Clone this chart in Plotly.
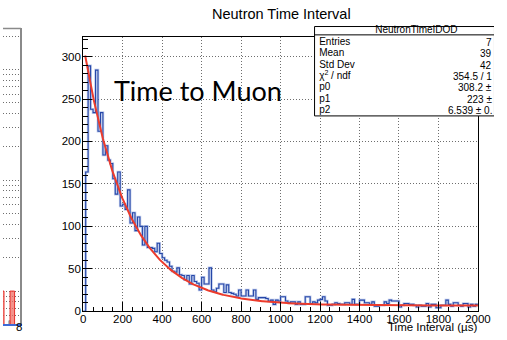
import numpy as np
import plotly.graph_objects as go

# ---------------- data ----------------
bin_width = 12.5          # µs
x_min, x_max = 0, 2000
counts = [
    0, 164, 289, 238, 234, 284, 212, 234, 184, 195,
    178, 174, 156, 138, 164, 124, 126, 120, 143, 104,
    116, 95, 111, 100, 78, 100, 75, 75, 74, 70,
    80, 68, 63, 60, 58, 53, 47, 46, 51, 43,
    42, 37, 42, 32, 42, 35, 33, 25, 40, 32,
    32, 51, 25, 23, 27, 32, 32, 22, 31, 22,
    21, 20, 18, 25, 18, 18, 25, 18, 18, 25,
    14, 16, 16, 16, 15, 12, 13, 8, 13, 12,
    17, 17, 12, 10, 11, 11, 8, 11, 8, 8,
    17, 17, 9, 11, 10, 13, 14, 17, 12, 7,
    7, 8, 10, 9, 8, 8, 10, 10, 8, 14,
    8, 8, 13, 13, 10, 10, 8, 11, 6, 6,
    7, 7, 11, 9, 13, 12, 12, 12, 5, 7,
    9, 9, 8, 8, 7, 5, 7, 6, 6, 9,
    5, 8, 8, 4, 4, 7, 7, 13, 8, 6,
    10, 10, 7, 6, 9, 9, 5, 8, 6, 8,
]
fit_p0, fit_p1, fit_p2 = 308.2, 223.0, 6.539
fit_start = 10

x_ticks = [0, 200, 400, 600, 800, 1000, 1200, 1400, 1600, 1800, 2000]
y_ticks = [0, 50, 100, 150, 200, 250, 300]

stats_title = "NeutronTimeIDOD"
stats_labels = ["Entries", "Mean", "Std Dev", "χ<sup>2</sup> / ndf", "p0", "p1", "p2"]
# the part of each value that is visible before the page edge cuts it
stats_values = ["7", "39", "42", "354.5 / 1", "308.2 ±", "223 ±", "6.539 ± 0."]

# partially visible neighbouring panel (log scale)
left_x = [-0.6, 3.2, 4.6]
left_y = [0.1, 0.054, 0.1]
left_w = [2.2, 0.6, 2.24]
left_tick = [8]

# ---------------- helpers ----------------
W, H = 507, 340
def px(x):
    return x / W
def py(y):
    return 1 - y / H

FONT = "Liberation Sans, Arial, Helvetica, sans-serif"

edges = np.arange(len(counts) + 1) * bin_width
step_x = list(edges)
step_y = list(counts) + [counts[-1]]

fx = np.linspace(fit_start, x_max, 600)
fy = fit_p0 * np.exp(-fx / fit_p1) + fit_p2

fig = go.Figure()

# main histogram (halo + line)
fig.add_trace(go.Scatter(x=step_x, y=step_y, mode="lines", line_shape="hv",
                         line=dict(color="rgba(110,140,210,0.45)", width=2.6),
                         hoverinfo="skip", showlegend=False))
fig.add_trace(go.Scatter(x=step_x, y=step_y, mode="lines", line_shape="hv",
                         line=dict(color="#2647a8", width=1.1),
                         showlegend=False))
# fit curve
fig.add_trace(go.Scatter(x=fx, y=fy, mode="lines",
                         line=dict(color="#ec3b2c", width=2),
                         showlegend=False))

# left panel bars
fig.add_trace(go.Bar(x=left_x, y=left_y, width=left_w,
                     marker=dict(color=["rgba(240,110,100,0.75)", "rgba(150,150,150,0.8)", "rgba(240,110,100,0.75)"],
                                 line=dict(color=["#e8302a", "#999999", "#e8302a"], width=1)),
                     xaxis="x2", yaxis="y2", showlegend=False))

# ---- stats box on a full-page overlay subplot (pixel coordinates) ----
box_l, box_r, box_t, box_b, box_sep = 321.7, 507.5, 27, 118, 35.5
box_center = 426.85
fig.add_trace(go.Scatter(x=[box_l, box_r, box_r, box_l, box_l],
                         y=[box_t, box_t, box_b, box_b, box_t],
                         mode="lines", fill="toself", fillcolor="white",
                         line=dict(color="black", width=1),
                         xaxis="x3", yaxis="y3", hoverinfo="skip", showlegend=False))
fig.add_trace(go.Scatter(x=[box_l, box_r], y=[box_sep, box_sep], mode="lines",
                         line=dict(color="black", width=1),
                         xaxis="x3", yaxis="y3", hoverinfo="skip", showlegend=False))
row_y = [43, 54.6, 66.2, 77.8, 89.4, 100.9, 112.4]
fig.add_trace(go.Scatter(x=[box_center], y=[31.3], mode="text",
                         text=[stats_title], textposition="middle center",
                         textfont=dict(size=10, family=FONT, color="black"),
                         cliponaxis=True, xaxis="x3", yaxis="y3", showlegend=False))
fig.add_trace(go.Scatter(x=[326.5] * len(stats_labels), y=row_y, mode="text",
                         text=stats_labels, textposition="middle right",
                         textfont=dict(size=10, family=FONT, color="black"),
                         cliponaxis=True, xaxis="x3", yaxis="y3", showlegend=False))

grid = dict(showgrid=True, gridcolor="#6e6e6e", griddash="1px,2px", gridwidth=1)

fig.update_layout(
    width=W, height=H, autosize=False,
    margin=dict(l=0, r=0, t=0, b=0),
    paper_bgcolor="white", plot_bgcolor="rgba(0,0,0,0)",
    font=dict(family=FONT, color="black", size=11.5),
    showlegend=False,
    bargap=0,
    dragmode=False,
    xaxis=dict(domain=[px(82.8), px(490.4)], range=[x_min, x_max], fixedrange=True,
               tickvals=x_ticks, ticks="inside", ticklen=9, tickcolor="black",
               minor=dict(dtick=50, ticks="inside", ticklen=4.5, tickcolor="black", showgrid=False),
               showline=True, linecolor="black", linewidth=1, mirror=True,
               zeroline=False, tickfont=dict(size=11.5), ticklabelstandoff=-3, **grid),
    yaxis=dict(domain=[py(316.8), py(37.3)], range=[0, 323.5], fixedrange=True,
               tickvals=y_ticks, ticks="inside", ticklen=9, tickcolor="black",
               minor=dict(dtick=10, ticks="inside", ticklen=4.5, tickcolor="black", showgrid=False),
               showline=True, linecolor="black", linewidth=1, mirror=True,
               zeroline=False, tickfont=dict(size=11.5), ticklabelstandoff=-1, **grid),
    xaxis2=dict(domain=[0, px(18)], range=[0, 8.6], anchor="y2", fixedrange=True,
                tickvals=left_tick, ticks="", showgrid=False, zeroline=False,
                showline=True, linecolor="#3d6ad6", linewidth=2,
                tickfont=dict(size=11.5), ticklabelstandoff=-9),
    yaxis2=dict(domain=[py(330), py(29)], type="log", range=[-1.2988, 1.3697],
                anchor="x2", side="right", dtick="D1", showticklabels=False, fixedrange=True,
                ticks="", showline=True, linecolor="#8a8a8a", linewidth=1.5,
                zeroline=False, **grid),
    xaxis3=dict(domain=[0, 1], range=[0, W], anchor="y3", visible=False, fixedrange=True),
    yaxis3=dict(domain=[0, 1], range=[H, 0], anchor="x3", visible=False, fixedrange=True),
)

shapes = [dict(type="line", xref="paper", yref="paper",
               x0=0, x1=px(18.5), y0=py(29), y1=py(29),
               line=dict(color="#8a8a8a", width=1.5))]
fig.update_layout(shapes=shapes)

ann = []
ann.append(dict(text="Neutron Time Interval", x=px(288), y=py(14), xref="paper", yref="paper",
                showarrow=False, xanchor="center", yanchor="middle",
                font=dict(size=14.5, family=FONT)))
ann.append(dict(text="Time Interval (µs)", x=px(492), y=py(333), xref="paper", yref="paper",
                showarrow=False, xanchor="right", yanchor="middle",
                font=dict(size=11.5, family=FONT)))
ann.append(dict(text="Time to Muon", x=px(113), y=py(92), xref="paper", yref="paper",
                showarrow=False, xanchor="left", yanchor="middle",
                font=dict(size=27, family="Lato, Carlito, sans-serif")))
# stats values, cut at the page edge as in the picture (kept inside the page)
for val, yy in zip(stats_values, row_y):
    ann.append(dict(text=val, x=1.0, y=py(yy), xref="paper", yref="paper",
                    showarrow=False, xanchor="right", yanchor="middle",
                    font=dict(size=10, family=FONT)))
fig.update_layout(annotations=ann)

fig.write_html("out.html", config={"staticPlot": True, "displayModeBar": False})
